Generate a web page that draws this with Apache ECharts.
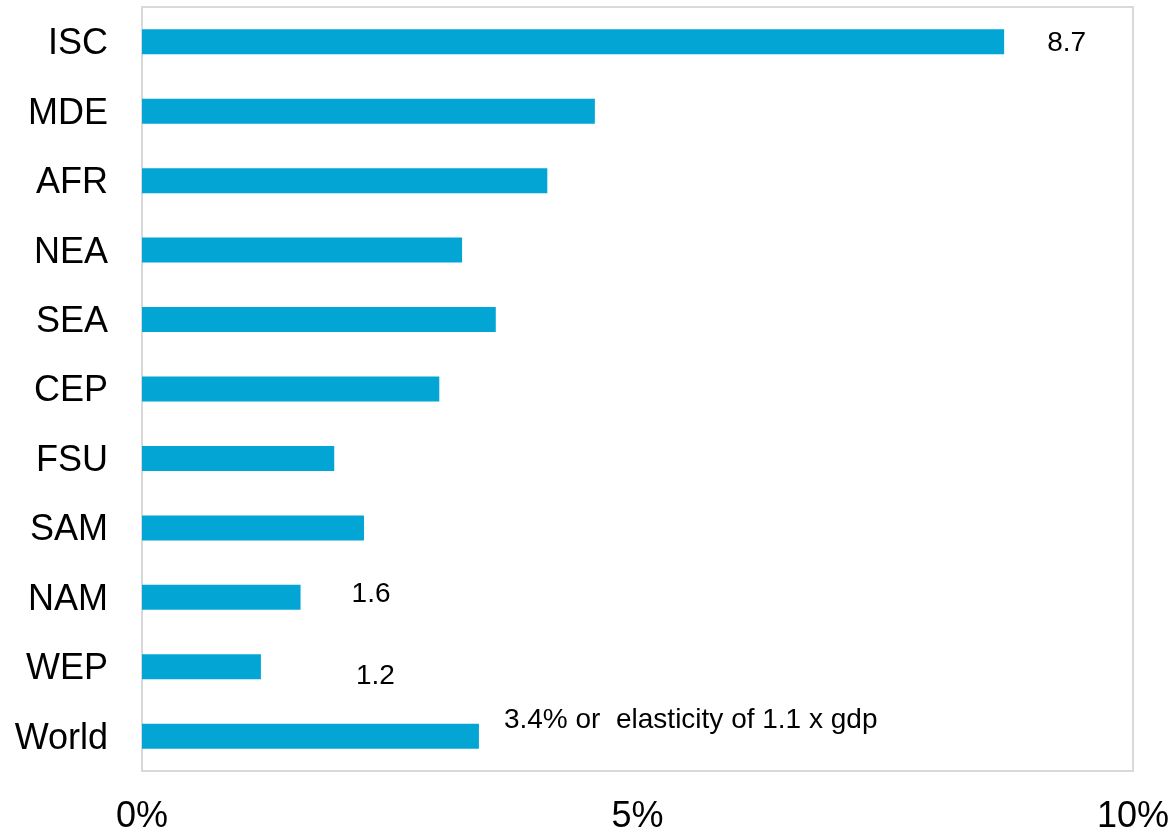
<!DOCTYPE html>
<html>
<head>
<meta charset="utf-8">
<script src="https://cdn.jsdelivr.net/npm/echarts@6/dist/echarts.min.js"></script>
<style>
  html, body { margin: 0; padding: 0; background: #fff; }
  #chart { width: 1172px; height: 835px; }
</style>
</head>
<body>
<div id="chart"></div>
<script>
// Annual growth rate by region (%), top to bottom
const regions = ['ISC', 'MDE', 'AFR', 'NEA', 'SEA', 'CEP', 'FSU', 'SAM', 'NAM', 'WEP', 'World'];
const growth = [8.7, 4.57, 4.09, 3.23, 3.57, 3.0, 1.94, 2.24, 1.6, 1.2, 3.4];
const xTicks = [0, 5, 10];
const worldElasticity = 1.1;

const FONT = '"Liberation Sans", Arial, sans-serif';
const BAR = '#03A5D4';

// Annotated bars: region -> label placement
const notes = {
  ISC:   { distance: 43, offset: [0, 2],   text: v => String(v) },
  NAM:   { distance: 51, offset: [0, -3],  text: v => String(v) },
  WEP:   { distance: 95, offset: [0, 9],   text: v => String(v) },
  World: { distance: 25, offset: [0, -16], text: v => v + '% or  elasticity of ' + worldElasticity + ' x gdp' }
};

const seriesData = regions.map((r, i) => {
  const item = { value: growth[i] };
  const n = notes[r];
  if (n) {
    item.label = {
      show: true,
      position: 'right',
      distance: n.distance,
      offset: n.offset,
      formatter: n.text(growth[i]),
      fontFamily: FONT,
      fontSize: 28,
      color: '#000'
    };
  }
  return item;
});

const chart = echarts.init(document.getElementById('chart'));
chart.setOption({
  animation: false,
  grid: {
    left: 142, right: 39, top: 7, bottom: 62,
    show: true, borderColor: '#d9d9d9', borderWidth: 2, backgroundColor: 'transparent'
  },
  xAxis: {
    type: 'value',
    min: xTicks[0], max: xTicks[xTicks.length - 1], interval: xTicks[1] - xTicks[0],
    axisLine: { show: false },
    axisTick: { show: false },
    splitLine: { show: false },
    axisLabel: {
      formatter: '{value}%',
      fontFamily: FONT, fontSize: 36, color: '#000', margin: 28
    }
  },
  yAxis: {
    type: 'category',
    data: regions,
    inverse: true,
    axisLine: { show: false },
    axisTick: { show: false },
    axisLabel: {
      margin: 34,
      // nudge region names slightly below the bar centre line
      formatter: v => '{r|' + v + '}',
      rich: { r: { fontFamily: FONT, fontSize: 36, color: '#000', padding: [5, 0, 0, 0] } }
    }
  },
  series: [{
    type: 'bar',
    data: seriesData,
    barWidth: 25,
    itemStyle: { color: BAR },
    label: { show: false }
  }]
});
</script>
</body>
</html>
